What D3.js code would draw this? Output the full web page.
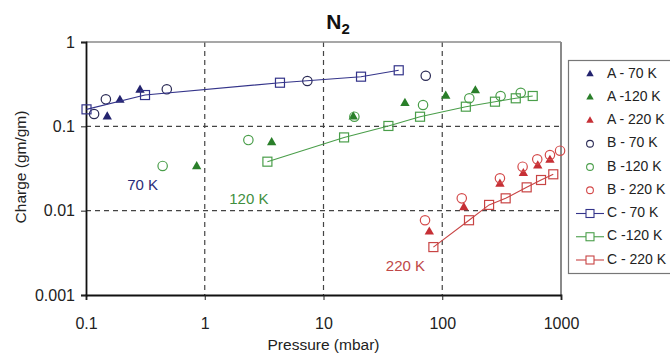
<!DOCTYPE html>
<html>
<head>
<meta charset="utf-8">
<script src="https://cdn.jsdelivr.net/npm/d3@7/dist/d3.min.js"></script>
<style>
  html, body { margin: 0; padding: 0; background: #fff; }
  svg { display: block; font-family: "Liberation Sans", Arial, sans-serif; }
</style>
</head>
<body>
<svg id="chart" width="670" height="354"></svg>
<script>
// Pressure (mbar) and charge (gm/gm) for each sample / temperature
const a70P  = [0.151, 0.193, 0.285];
const a70C  = [0.130, 0.205, 0.270];
const a120P = [0.855, 3.66, 17.8, 48.5, 107, 190];
const a120C = [0.0334, 0.0643, 0.130, 0.188, 0.229, 0.265];
const a220P = [77.8, 152, 306, 482, 637, 807];
const a220C = [0.0056, 0.0109, 0.0207, 0.0277, 0.0341, 0.0398];

const b70P  = [0.117, 0.147, 0.479, 7.31, 72.6];
const b70C  = [0.140, 0.209, 0.275, 0.345, 0.398];
const b120P = [0.442, 2.33, 18.2, 68.9, 169, 310, 458];
const b120C = [0.0339, 0.0688, 0.130, 0.179, 0.215, 0.229, 0.250];
const b220P = [71.6, 146, 306, 475, 631, 807, 982];
const b220C = [0.0077, 0.0140, 0.0242, 0.0332, 0.0406, 0.0457, 0.0514];

const c70P  = [0.101, 0.314, 4.30, 20.7, 43.0];
const c70C  = [0.159, 0.235, 0.329, 0.388, 0.462];
const c120P = [3.37, 14.9, 35.2, 65.0, 158, 278, 416, 578];
const c120C = [0.0381, 0.0739, 0.101, 0.130, 0.171, 0.196, 0.215, 0.229];
const c220P = [84.2, 168, 248, 342, 514, 679, 861];
const c220C = [0.0037, 0.0077, 0.0117, 0.0140, 0.0189, 0.0231, 0.0270];

const xTicks = [0.1, 1, 10, 100, 1000];
const yTicks = [0.001, 0.01, 0.1, 1];
const xGrid = [1, 10, 100];
const yGrid = [0.01, 0.1];

const tempLabels = [
  { text: "70 K",  p: 0.30, c: 0.0195, color: "#2b2b78" },
  { text: "120 K", p: 2.35, c: 0.0135, color: "#3f8f3f" },
  { text: "220 K", p: 49,   c: 0.00215, color: "#c04848" }
];

const navy = "#23236e", green = "#2a7f2a", red = "#c62f35";

const series = [
  { name: "A - 70 K",  P: a70P,  C: a70C,  shape: "tri", color: navy },
  { name: "A -120 K",  P: a120P, C: a120C, shape: "tri", color: green },
  { name: "A - 220 K", P: a220P, C: a220C, shape: "tri", color: red },
  { name: "B - 70 K",  P: b70P,  C: b70C,  shape: "circ", color: "#2a2a55" },
  { name: "B -120 K",  P: b120P, C: b120C, shape: "circ", color: "#4a9e4a" },
  { name: "B - 220 K", P: b220P, C: b220C, shape: "circ", color: "#d44a4a" },
  { name: "C - 70 K",  P: c70P,  C: c70C,  shape: "sq", line: true, color: "#34348a" },
  { name: "C -120 K",  P: c120P, C: c120C, shape: "sq", line: true, color: "#4a9e4a" },
  { name: "C - 220 K", P: c220P, C: c220C, shape: "sq", line: true, color: "#c84444" }
];

const svg = d3.select("#chart");
const pLeft = 86, pRight = 561, pTop = 42, pBottom = 295;

const x = d3.scaleLog().domain([0.1, 1000]).range([pLeft, pRight]);
const y = d3.scaleLog().domain([0.001, 1]).range([pBottom, pTop]);

// dashed grid
svg.append("g").selectAll("line").data(xGrid).join("line")
  .attr("x1", d => x(d)).attr("x2", d => x(d))
  .attr("y1", pTop).attr("y2", pBottom)
  .attr("stroke", "#444").attr("stroke-width", 1.2).attr("stroke-dasharray", "5,4");
svg.append("g").selectAll("line").data(yGrid).join("line")
  .attr("x1", pLeft).attr("x2", pRight)
  .attr("y1", d => y(d)).attr("y2", d => y(d))
  .attr("stroke", "#444").attr("stroke-width", 1.2).attr("stroke-dasharray", "5,4");

// frame: gray top and right
svg.append("line").attr("x1", pLeft).attr("x2", pRight).attr("y1", pTop).attr("y2", pTop)
  .attr("stroke", "#8a8a8a").attr("stroke-width", 1.6);
svg.append("line").attr("x1", pRight).attr("x2", pRight).attr("y1", pTop).attr("y2", pBottom)
  .attr("stroke", "#8a8a8a").attr("stroke-width", 2);

// axes
const xAxis = svg.append("g").attr("transform", `translate(0,${pBottom})`)
  .call(d3.axisBottom(x).tickValues(xTicks).tickFormat(d => String(d)).tickSize(5).tickPadding(18));
const yAxis = svg.append("g").attr("transform", `translate(${pLeft},0)`)
  .call(d3.axisLeft(y).tickValues(yTicks).tickFormat(d => String(d)).tickSize(5).tickPadding(6));
[xAxis, yAxis].forEach(g => {
  g.select(".domain").attr("stroke", "#111").attr("stroke-width", 1.8);
  g.selectAll(".tick line").attr("stroke", "#222");
  g.selectAll(".tick text").attr("fill", "#222").style("font-size", "16px")
    .style("font-family", '"Liberation Sans", Arial, sans-serif');
});

// series
const symTri = d3.symbol().type(d3.symbolTriangle).size(38);
series.forEach(s => {
  const pts = s.P.map((p, i) => [p, s.C[i]]);
  const g = svg.append("g");
  if (s.line) {
    g.append("path")
      .attr("d", d3.line().x(d => x(d[0])).y(d => y(d[1]))(pts))
      .attr("fill", "none").attr("stroke", s.color).attr("stroke-width", 1.1);
  }
  pts.forEach(d => {
    const cx = x(d[0]), cy = y(d[1]);
    if (s.shape === "tri") {
      g.append("path").attr("d", symTri()).attr("transform", `translate(${cx},${cy})`)
        .attr("fill", s.color);
    } else if (s.shape === "circ") {
      g.append("circle").attr("cx", cx).attr("cy", cy).attr("r", 4.7)
        .attr("fill", "none").attr("stroke", s.color).attr("stroke-width", 1.2);
    } else {
      g.append("rect").attr("x", cx - 4.5).attr("y", cy - 4.5).attr("width", 9).attr("height", 9)
        .attr("fill", "none").attr("stroke", s.color).attr("stroke-width", 1.2);
    }
  });
});

// temperature annotations
svg.append("g").selectAll("text").data(tempLabels).join("text")
  .attr("x", d => x(d.p)).attr("y", d => y(d.c))
  .attr("text-anchor", "middle").attr("dominant-baseline", "middle")
  .attr("fill", d => d.color).style("font-size", "15px")
  .text(d => d.text);

// title
const title = svg.append("text").attr("x", 338).attr("y", 29)
  .attr("text-anchor", "middle").attr("font-weight", "bold").style("font-size", "21px").attr("fill", "#111");
title.append("tspan").text("N");
title.append("tspan").attr("dy", 5).style("font-size", "15px").text("2");

// axis titles
svg.append("text").attr("x", (pLeft + pRight) / 2).attr("y", 350)
  .attr("text-anchor", "middle").style("font-size", "15.5px").attr("fill", "#222")
  .text("Pressure (mbar)");
svg.append("text").attr("transform", `translate(26,167) rotate(-90)`)
  .attr("text-anchor", "middle").style("font-size", "15.5px").attr("fill", "#222")
  .text("Charge (gm/gm)");

// legend
const lg = svg.append("g");
lg.append("rect").attr("x", 568.5).attr("y", 60.5).attr("width", 120).attr("height", 213)
  .attr("fill", "#fff").attr("stroke", "#777").attr("stroke-width", 1.2);
const legSym = d3.symbol().type(d3.symbolTriangle).size(24);
series.forEach((s, i) => {
  const cy = 74 + i * 23.25;
  const mx = 590;
  if (s.line) {
    lg.append("line").attr("x1", 576).attr("x2", 604).attr("y1", cy).attr("y2", cy)
      .attr("stroke", s.color).attr("stroke-width", 1.1);
    lg.append("rect").attr("x", mx - 4).attr("y", cy - 4).attr("width", 8).attr("height", 8)
      .attr("fill", "#fff").attr("stroke", s.color).attr("stroke-width", 1.1);
  } else if (s.shape === "tri") {
    lg.append("path").attr("d", legSym()).attr("transform", `translate(${mx},${cy})`).attr("fill", s.color);
  } else {
    lg.append("circle").attr("cx", mx).attr("cy", cy).attr("r", 3.4)
      .attr("fill", "none").attr("stroke", s.color).attr("stroke-width", 1.1);
  }
  lg.append("text").attr("x", 607).attr("y", cy).attr("dominant-baseline", "middle")
    .style("font-size", "14px").attr("fill", "#222").text(s.name);
});
</script>
</body>
</html>
